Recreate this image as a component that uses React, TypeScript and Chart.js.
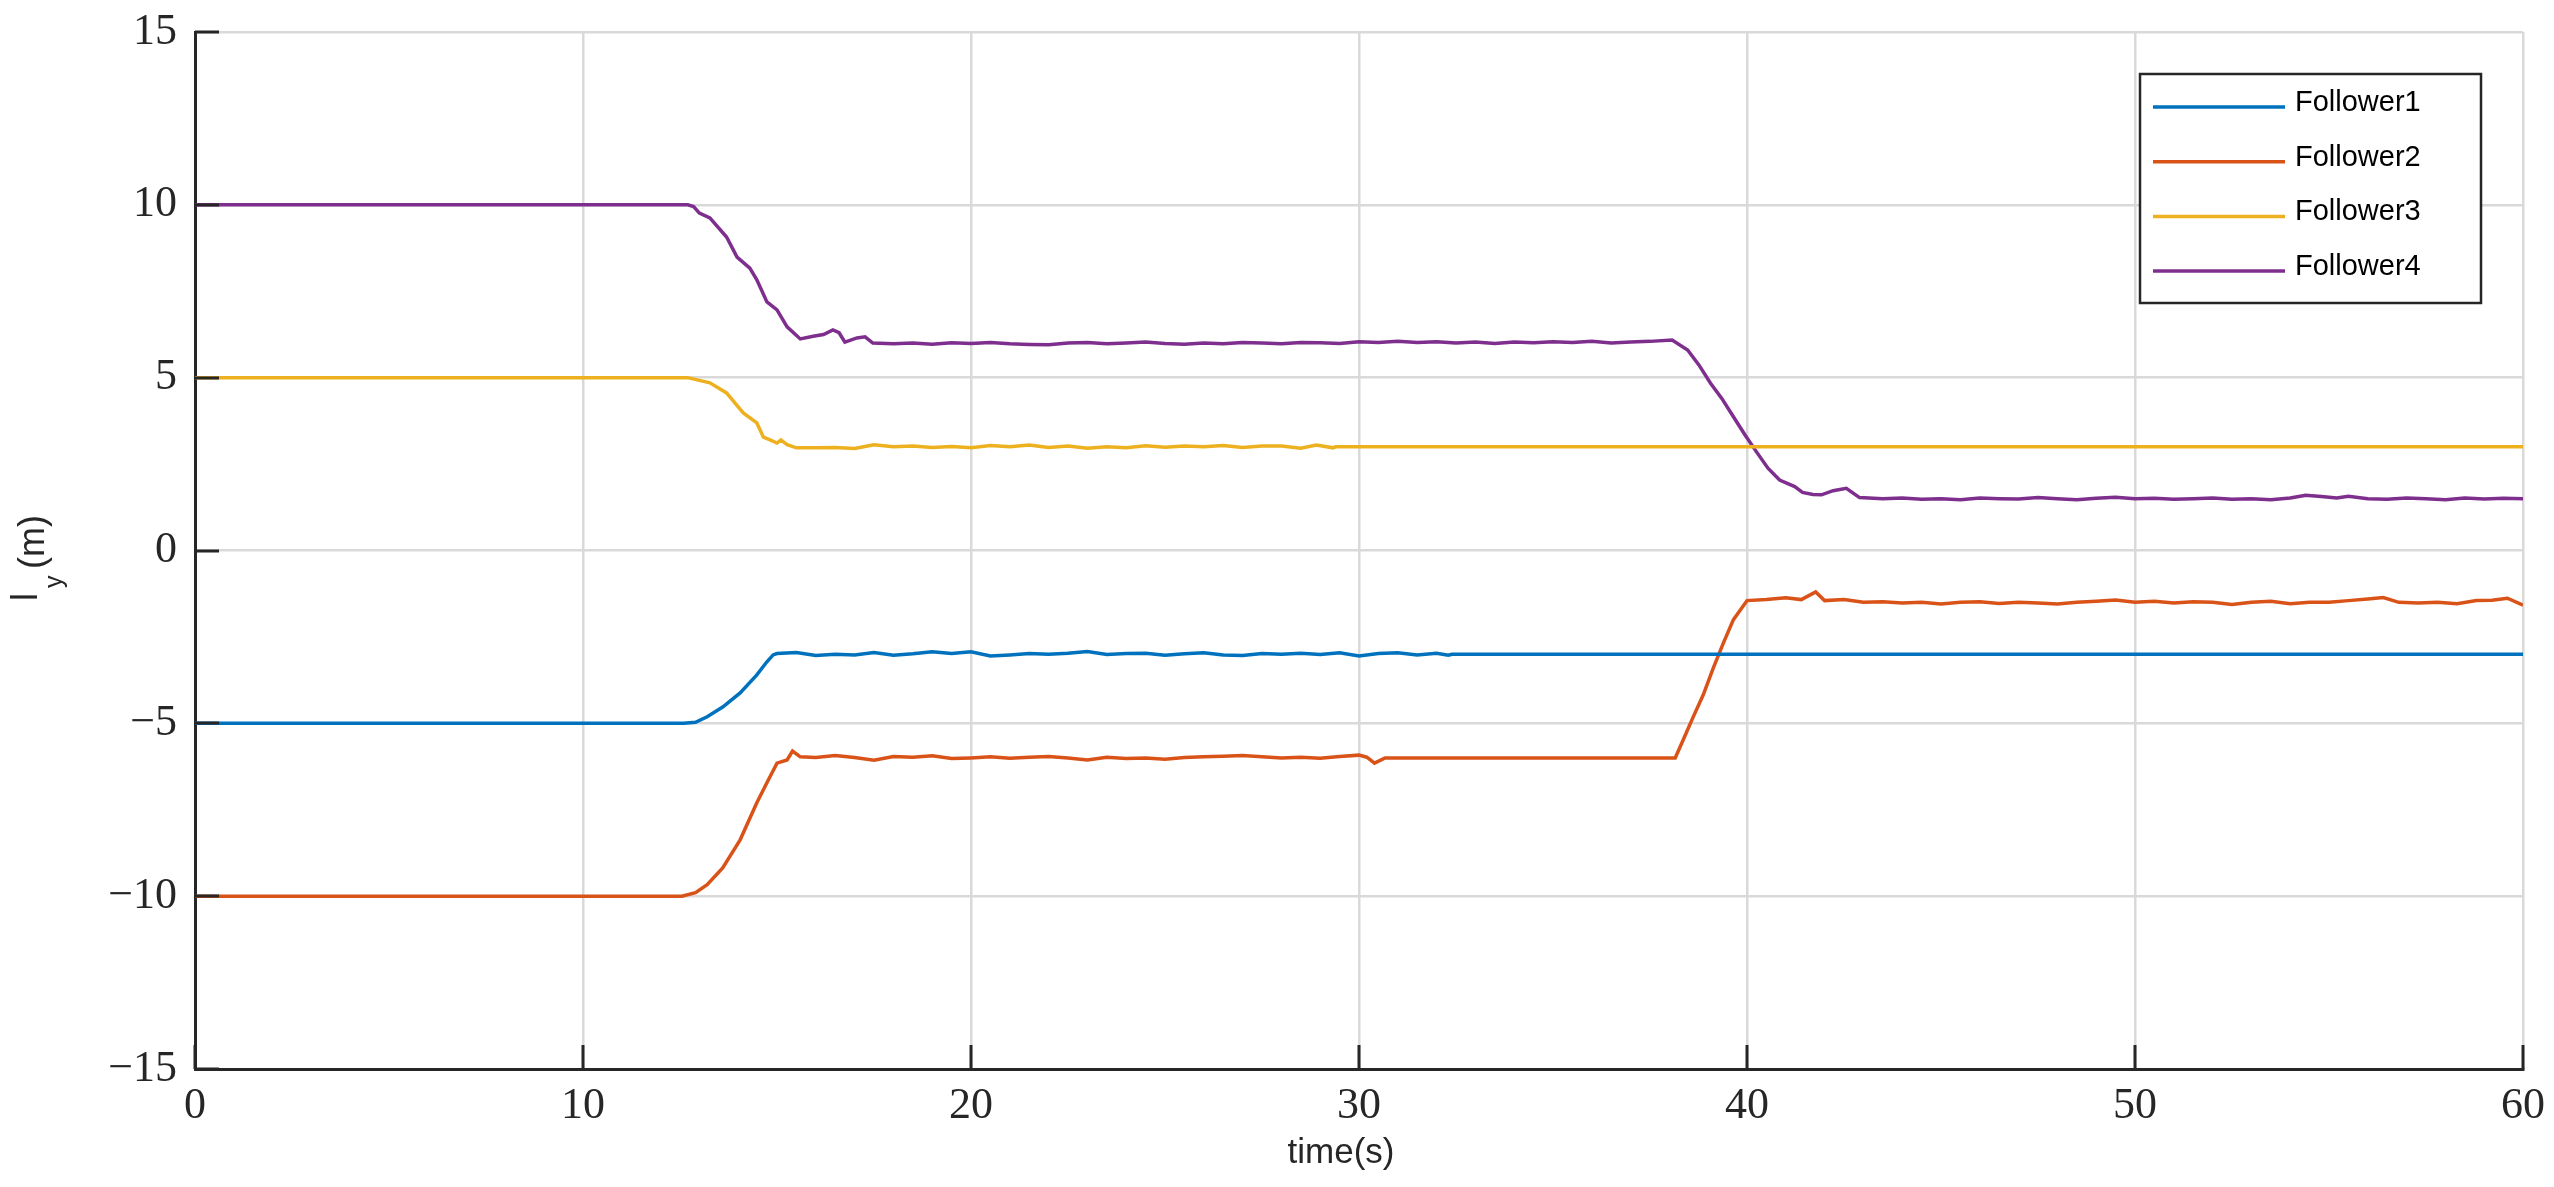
import React, { useEffect, useRef } from "react";
import { Chart, registerables } from "chart.js";

Chart.register(...registerables);

const SERIES_NAMES = ["Follower1", "Follower2", "Follower3", "Follower4"];
const SERIES_COLORS = ["#0072BD", "#D95319", "#EDB120", "#7E2F8E"];
const X_TICKS = [0, 10, 20, 30, 40, 50, 60];
const Y_TICKS = [-15, -10, -5, 0, 5, 10, 15];
const X_TITLE = "time(s)";

// [time (s), l_y (m)]
const follower1: [number, number][] = [
  [0, -5], [12.6, -5], [12.9, -4.97], [13.2, -4.81], [13.6, -4.53], [14.05, -4.12], [14.48, -3.6], [14.74, -3.22], [14.9, -3.02],
  [15.0, -2.98], [15.5, -2.95], [16.0, -3.04], [16.5, -3.0], [17.0, -3.02], [17.5, -2.95], [18.0, -3.03], [18.5, -2.99],
  [19.0, -2.93], [19.5, -2.98], [20.0, -2.93], [20.5, -3.05], [21.0, -3.02], [21.5, -2.98], [22.0, -3.0], [22.5, -2.97],
  [23.0, -2.92], [23.5, -3.01], [24.0, -2.98], [24.5, -2.97], [25.0, -3.03], [25.5, -2.99], [26.0, -2.96], [26.5, -3.02],
  [27.0, -3.04], [27.5, -2.98], [28.0, -3.0], [28.5, -2.97], [29.0, -3.01], [29.5, -2.96], [30.0, -3.05], [30.5, -2.98],
  [31.0, -2.96], [31.5, -3.02], [32.0, -2.97], [32.3, -3.03], [32.4, -3.0], [60, -3.0],
];

const follower2: [number, number][] = [
  [0, -10], [12.55, -10], [12.9, -9.9], [13.2, -9.67], [13.6, -9.18], [14.05, -8.37], [14.48, -7.3], [14.74, -6.72],
  [15.0, -6.15], [15.26, -6.06], [15.4, -5.8], [15.6, -5.97], [16.0, -5.99], [16.5, -5.93], [17.0, -5.99], [17.5, -6.07],
  [18.0, -5.96], [18.5, -5.98], [19.0, -5.94], [19.5, -6.02], [20.0, -6.0], [20.5, -5.97], [21.0, -6.01], [21.5, -5.98],
  [22.0, -5.96], [22.5, -6.0], [23.0, -6.06], [23.5, -5.98], [24.0, -6.02], [24.5, -6.0], [25.0, -6.04], [25.5, -5.99],
  [26.0, -5.97], [26.5, -5.95], [27.0, -5.93], [27.5, -5.97], [28.0, -6.0], [28.5, -5.98], [29.0, -6.01], [29.5, -5.96],
  [30.0, -5.92], [30.2, -5.98], [30.4, -6.15], [30.67, -6.0], [38.15, -6.0],
  [38.36, -5.47], [38.62, -4.8], [38.87, -4.18], [39.13, -3.4], [39.39, -2.68], [39.65, -2.0], [39.86, -1.67], [40.0, -1.45],
  [40.5, -1.42], [41.0, -1.37], [41.4, -1.42], [41.77, -1.2], [42.0, -1.45], [42.5, -1.42], [43.0, -1.5], [43.5, -1.48],
  [44.0, -1.52], [44.5, -1.5], [45.0, -1.55], [45.5, -1.5], [46.0, -1.48], [46.5, -1.53], [47.0, -1.5], [47.5, -1.52],
  [48.0, -1.55], [48.5, -1.5], [49.0, -1.47], [49.5, -1.43], [50.0, -1.5], [50.5, -1.47], [51.0, -1.52], [51.5, -1.48],
  [52.0, -1.5], [52.5, -1.56], [53.0, -1.5], [53.5, -1.47], [54.0, -1.54], [54.5, -1.5], [55.0, -1.5], [55.5, -1.45],
  [56.0, -1.4], [56.4, -1.36], [56.8, -1.5], [57.3, -1.52], [57.8, -1.5], [58.3, -1.54], [58.8, -1.45], [59.2, -1.44],
  [59.6, -1.38], [60, -1.58],
];

const follower3: [number, number][] = [
  [0, 5], [12.7, 5], [13.27, 4.85], [13.7, 4.56], [14.13, 3.98], [14.48, 3.69], [14.65, 3.28], [14.82, 3.2], [15.0, 3.11],
  [15.1, 3.2], [15.26, 3.06], [15.5, 2.97], [16.0, 2.97], [16.5, 2.98], [17.0, 2.95], [17.5, 3.06], [18.0, 3.0],
  [18.5, 3.02], [19.0, 2.98], [19.5, 3.01], [20.0, 2.97], [20.5, 3.04], [21.0, 3.0], [21.5, 3.05], [22.0, 2.98],
  [22.5, 3.02], [23.0, 2.96], [23.5, 3.0], [24.0, 2.97], [24.5, 3.03], [25.0, 2.99], [25.5, 3.02], [26.0, 3.0],
  [26.5, 3.04], [27.0, 2.98], [27.5, 3.02], [28.0, 3.02], [28.5, 2.96], [28.9, 3.05], [29.33, 2.97], [29.4, 3.0], [60, 3.0],
];

const follower4: [number, number][] = [
  [0, 10], [12.7, 10], [12.85, 9.95], [13.0, 9.76], [13.27, 9.62], [13.7, 9.07], [13.97, 8.49], [14.3, 8.17], [14.48, 7.83],
  [14.74, 7.19], [15.0, 6.96], [15.26, 6.47], [15.6, 6.12], [15.93, 6.2], [16.2, 6.25], [16.44, 6.38], [16.6, 6.3],
  [16.75, 6.03], [17.06, 6.15], [17.27, 6.18], [17.47, 6.0], [18.0, 5.98], [18.5, 6.0], [19.0, 5.97], [19.5, 6.01],
  [20.0, 5.99], [20.5, 6.02], [21.0, 5.98], [21.5, 5.96], [22.0, 5.95], [22.5, 6.0], [23.0, 6.02], [23.5, 5.98],
  [24.0, 6.0], [24.5, 6.03], [25.0, 5.99], [25.5, 5.97], [26.0, 6.0], [26.5, 5.98], [27.0, 6.02], [27.5, 6.0],
  [28.0, 5.98], [28.5, 6.02], [29.0, 6.01], [29.5, 5.99], [30.0, 6.04], [30.5, 6.02], [31.0, 6.05], [31.5, 6.02],
  [32.0, 6.04], [32.5, 6.0], [33.0, 6.03], [33.5, 5.99], [34.0, 6.03], [34.5, 6.01], [35.0, 6.04], [35.5, 6.02],
  [36.0, 6.05], [36.5, 6.0], [37.0, 6.03], [37.5, 6.05], [38.07, 6.09],
  [38.47, 5.8], [38.76, 5.37], [39.06, 4.84], [39.35, 4.4], [39.65, 3.87], [39.95, 3.34], [40.24, 2.86], [40.54, 2.38],
  [40.84, 2.04], [41.23, 1.85], [41.43, 1.68], [41.7, 1.62], [41.92, 1.61], [42.22, 1.73], [42.56, 1.8], [42.9, 1.53],
  [43.5, 1.5], [44.0, 1.52], [44.5, 1.48], [45.0, 1.5], [45.5, 1.47], [46.0, 1.52], [46.5, 1.5], [47.0, 1.49],
  [47.5, 1.53], [48.0, 1.5], [48.5, 1.47], [49.0, 1.51], [49.5, 1.54], [50.0, 1.5], [50.5, 1.51], [51.0, 1.48],
  [51.5, 1.5], [52.0, 1.52], [52.5, 1.48], [53.0, 1.5], [53.5, 1.47], [54.0, 1.52], [54.4, 1.6], [54.8, 1.56],
  [55.2, 1.52], [55.5, 1.57], [56.0, 1.5], [56.5, 1.48], [57.0, 1.52], [57.5, 1.5], [58.0, 1.47], [58.5, 1.52],
  [59.0, 1.49], [59.5, 1.51], [60, 1.5],
];

const SERIES = [follower1, follower2, follower3, follower4];

const AXIS_COLOR = "#262626";
const GRID_COLOR = "#d9d9d9";
const SERIF = "'Liberation Serif', 'DejaVu Serif', serif";
const SANS = "'Liberation Sans', Arial, sans-serif";

const fmt = (v: number) => (v < 0 ? "\u2212" + Math.abs(v) : String(v));

const decorPlugin = {
  id: "decor",
  afterDatasetsDraw(chart: any) {
    const { ctx, chartArea } = chart;
    const xs = chart.scales.x;
    const ys = chart.scales.y;
    ctx.save();
    // inward ticks
    ctx.strokeStyle = AXIS_COLOR;
    ctx.lineWidth = 3;
    ctx.beginPath();
    X_TICKS.forEach((t) => {
      const px = Math.round(xs.getPixelForValue(t));
      ctx.moveTo(px, chartArea.bottom);
      ctx.lineTo(px, chartArea.bottom - 24);
    });
    Y_TICKS.forEach((t) => {
      const py = Math.round(ys.getPixelForValue(t));
      ctx.moveTo(chartArea.left, py);
      ctx.lineTo(chartArea.left + 24, py);
    });
    ctx.stroke();

    // legend
    const bw = 341;
    const bh = 229;
    const bx = chartArea.right - 383;
    const by = chartArea.top + 42;
    ctx.fillStyle = "#ffffff";
    ctx.fillRect(bx, by, bw, bh);
    ctx.lineWidth = 2.5;
    ctx.strokeStyle = AXIS_COLOR;
    ctx.strokeRect(bx, by, bw, bh);
    ctx.font = `29px ${SANS}`;
    ctx.textAlign = "left";
    ctx.textBaseline = "alphabetic";
    chart.data.datasets.forEach((ds: any, i: number) => {
      const ly = by + 33 + i * 54.7;
      ctx.strokeStyle = ds.borderColor;
      ctx.lineWidth = 3.5;
      ctx.beginPath();
      ctx.moveTo(bx + 13, ly);
      ctx.lineTo(bx + 145, ly);
      ctx.stroke();
      ctx.fillStyle = "#000000";
      ctx.fillText(ds.label, bx + 155, ly + 4);
    });

    // axis titles
    ctx.fillStyle = AXIS_COLOR;
    ctx.font = `35px ${SANS}`;
    ctx.textAlign = "center";
    ctx.textBaseline = "alphabetic";
    ctx.fillText(X_TITLE, 1333, 1171 - 16);

    ctx.save();
    ctx.rotate(-Math.PI / 2);
    ctx.textAlign = "left";
    ctx.font = `36px ${SANS}`;
    ctx.fillText("l", -593, 29);
    ctx.font = `25px ${SANS}`;
    ctx.fillText("y", -580, 54);
    ctx.font = `36px ${SANS}`;
    ctx.fillText("(m)", -561, 36);
    ctx.restore();

    ctx.restore();
  },
};

export default function App() {
  const canvasRef = useRef<HTMLCanvasElement | null>(null);

  useEffect(() => {
    if (!canvasRef.current) return;
    const chart = new Chart(canvasRef.current, {
      type: "line",
      data: {
        datasets: SERIES.map((s, i) => ({
          label: SERIES_NAMES[i],
          data: s.map(([x, y]) => ({ x, y })),
          borderColor: SERIES_COLORS[i],
          backgroundColor: SERIES_COLORS[i],
          borderWidth: 3.5,
          pointRadius: 0,
          tension: 0,
          fill: false,
        })),
      },
      options: {
        animation: false,
        responsive: true,
        maintainAspectRatio: false,
        layout: { padding: { left: 0, top: 24, right: 23, bottom: 0 } },
        plugins: {
          legend: { display: false },
          tooltip: { enabled: false },
          title: { display: false },
        },
        scales: {
          x: {
            type: "linear",
            min: 0,
            max: 60,
            afterBuildTicks: (s: any) => {
              s.ticks = X_TICKS.map((v) => ({ value: v }));
            },
            afterFit: (s: any) => {
              s.height = 110;
              s.paddingLeft = 0;
              s.paddingRight = 0;
              s.paddingTop = 0;
              s.paddingBottom = 0;
            },
            grid: { color: GRID_COLOR, lineWidth: 2.5, drawTicks: false },
            border: { display: true, color: AXIS_COLOR, width: 3 },
            ticks: {
              padding: 15,
              color: AXIS_COLOR,
              font: { family: SERIF, size: 44, lineHeight: 1 },
              maxRotation: 0,
              callback: (v: any) => fmt(Number(v)),
            },
          },
          y: {
            type: "linear",
            min: -15,
            max: 15,
            afterBuildTicks: (s: any) => {
              s.ticks = Y_TICKS.map((v) => ({ value: v }));
            },
            afterFit: (s: any) => {
              s.width = 187;
              s.paddingLeft = 0;
              s.paddingRight = 0;
              s.paddingTop = 0;
              s.paddingBottom = 0;
            },
            grid: { color: GRID_COLOR, lineWidth: 2.5, drawTicks: false },
            border: { display: true, color: AXIS_COLOR, width: 3 },
            ticks: {
              padding: 18,
              color: AXIS_COLOR,
              font: { family: SERIF, size: 44, lineHeight: 1 },
              callback: (v: any) => fmt(Number(v)),
            },
          },
        },
      },
      plugins: [decorPlugin],
    });
    return () => chart.destroy();
  }, []);

  return (
    <div style={{ position: "relative", width: "100%", height: "1171px" }}>
      <canvas ref={canvasRef} style={{ display: "block" }} />
    </div>
  );
}
